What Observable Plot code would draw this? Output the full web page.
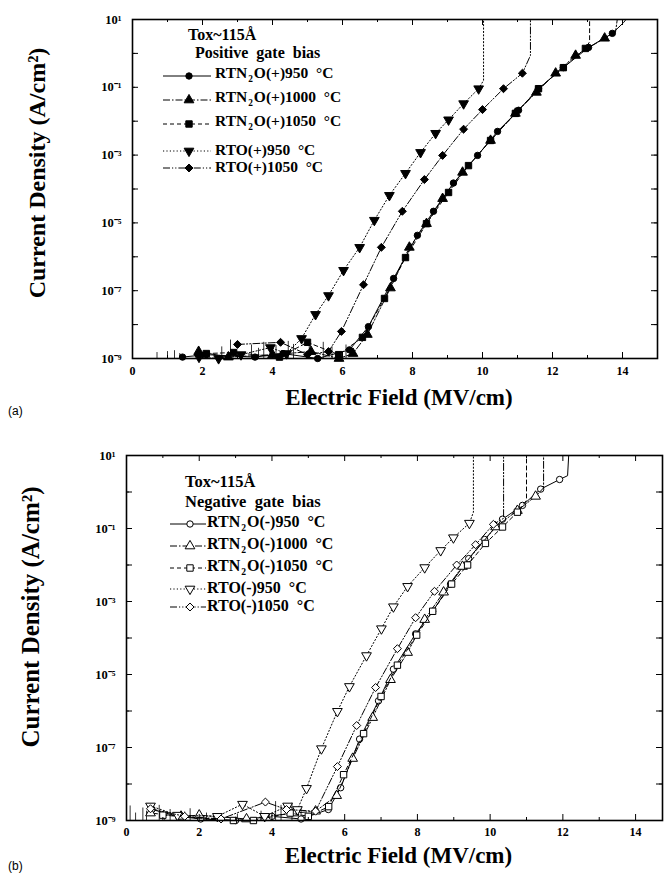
<!DOCTYPE html>
<html><head><meta charset="utf-8">
<script src="https://cdn.jsdelivr.net/npm/d3@7"></script>
<script src="https://cdn.jsdelivr.net/npm/@observablehq/plot@0.6"></script>
<style>
body{margin:0;background:#fff;}
#wrap{position:relative;width:664px;height:878px;overflow:hidden;font-family:"Liberation Serif","Times New Roman",serif;color:#000;}
.panel{position:absolute;left:0;}
.tag{position:absolute;font-family:"Liberation Sans",Arial,sans-serif;font-size:12px;line-height:1;transform:translateY(-50%);}
.lg{position:absolute;font-weight:bold;line-height:1;white-space:nowrap;transform:translateY(-55%);}
.lg sub{font-size:60%;vertical-align:-4px;margin:0 1px;}
.smp{position:absolute;}
</style></head><body><div id="wrap"></div>
<script>
// ---------- data ----------
const xTicksMajor = [0, 2, 4, 6, 8, 10, 12, 14];
const xTicksMinor = [1, 3, 5, 7, 9, 11, 13];
const yLabelTicks = [1e1, 1e-1, 1e-3, 1e-5, 1e-7, 1e-9];
const yTickLabels = ["10¹", "10⁻¹", "10⁻³", "10⁻⁵", "10⁻⁷", "10⁻⁹"];

const posTitle = "Tox~115Å";
const posSubtitle = "Positive gate bias";
const posLabels = ["RTN2O(+)950 °C", "RTN2O(+)1000 °C", "RTN2O(+)1050 °C", "RTO(+)950 °C", "RTO(+)1050 °C"];

const posRtn950Field = [1.43, 2.11, 3.5, 4.3, 5.29, 6.2, 6.74, 7.46, 8.14, 8.60, 9.17, 9.86, 10.43, 11.03, 11.60, 12.31, 13.03, 13.71, 14.03, 14.1];
const posRtn950J     = [1.1e-9, 1.3e-9, 1.1e-9, 1.4e-9, 1.0e-9, 1.8e-9, 8.7e-9, 2.3e-7, 4.3e-6, 2.2e-5, 1.5e-4, 9.8e-4, 5.0e-3, 2.1e-2, 9.1e-2, 0.38, 1.5, 3.9, 8.1, 10];
const posRtn1000Field = [1.89, 2.74, 4.0, 5.1, 5.9, 6.3, 6.71, 7.37, 7.91, 8.40, 8.86, 9.43, 10.23, 10.94, 11.54, 12.09, 12.66, 13.49, 13.80, 13.85];
const posRtn1000J     = [1.6e-9, 1.1e-9, 1.3e-9, 1.6e-9, 1.0e-9, 1.4e-9, 5.1e-9, 1.2e-7, 1.9e-6, 9.5e-6, 5.2e-5, 3.1e-4, 2.7e-3, 1.7e-2, 7.1e-2, 0.26, 0.87, 2.8, 4.2, 10];
const posRtn1050Field = [2.11, 2.89, 4.2, 5.0, 5.89, 6.57, 7.20, 7.80, 8.40, 9.03, 9.60, 10.23, 10.94, 11.60, 12.31, 12.94, 13.06, 13.06];
const posRtn1050J     = [1.4e-9, 1.5e-9, 1.1e-9, 3.0e-9, 1.3e-9, 4.2e-9, 5.9e-8, 9.5e-7, 9.5e-6, 7.9e-5, 4.9e-4, 2.7e-3, 1.7e-2, 9.1e-2, 0.38, 1.4, 2.2, 10];
const posRto950Field = [1.9, 2.46, 3.1, 3.94, 4.4, 4.83, 5.23, 5.60, 6.03, 6.49, 6.91, 7.34, 7.80, 8.23, 8.66, 9.03, 9.46, 9.89, 10.03, 10.03];
const posRto950J     = [1.1e-9, 1.0e-9, 1.3e-9, 2.1e-9, 1.4e-9, 3.9e-9, 2.0e-8, 7.2e-8, 4.0e-7, 1.9e-6, 1.2e-5, 6.5e-5, 2.9e-4, 1.2e-3, 4.4e-3, 1.1e-2, 3.3e-2, 9.1e-2, 0.16, 10];
const posRto1050Field = [3.0, 4.23, 5.0, 5.6, 5.97, 6.60, 7.11, 7.71, 8.34, 8.86, 9.46, 10.0, 10.6, 11.14, 11.37, 11.37];
const posRto1050J     = [2.6e-9, 3.0e-9, 1.3e-9, 1.6e-9, 6.3e-9, 1.5e-7, 1.9e-6, 2.2e-5, 1.9e-4, 9.8e-4, 5.8e-3, 2.2e-2, 9.1e-2, 0.26, 0.87, 10];
const posNoiseField = [0.7, 1.0, 1.2, 1.35, 2.55, 2.8, 3.4, 3.6, 3.75, 4.1, 4.45, 4.6, 5.05, 5.45, 5.7, 6.1];
const posNoiseJ     = [1.5e-9, 1.6e-9, 1.7e-9, 1.4e-9, 2.2e-9, 3.5e-9, 2.5e-9, 2.0e-9, 3.0e-9, 2.4e-9, 3.2e-9, 2.6e-9, 2.8e-9, 3.0e-9, 2.2e-9, 2.5e-9];

const negTitle = "Tox~115Å";
const negSubtitle = "Negative gate bias";
const negLabels = ["RTN2O(-)950 °C", "RTN2O(-)1000 °C", "RTN2O(-)1050 °C", "RTO(-)950 °C", "RTO(-)1050 °C"];

const negRtn950Field = [0.7, 1.43, 2.04, 3.0, 4.0, 4.8, 5.55, 5.89, 6.41, 6.93, 7.34, 7.95, 8.42, 8.91, 9.41, 9.85, 10.34, 10.89, 11.39, 11.91, 12.13, 12.16];
const negRtn950J     = [2.0e-9, 1.3e-9, 1.1e-9, 1.0e-9, 1.3e-9, 1.1e-9, 2.0e-9, 7.9e-9, 1.7e-7, 1.9e-6, 1.4e-5, 1.3e-4, 5.4e-4, 3.0e-3, 1.5e-2, 5.0e-2, 0.18, 0.43, 1.2, 2.2, 2.8, 10];
const negRtn1000Field = [0.66, 1.5, 2.0, 3.3, 4.6, 5.2, 5.78, 6.22, 6.77, 7.26, 7.73, 8.20, 8.72, 9.24, 10.15, 10.75, 11.25, 11.47, 11.47];
const negRtn1000J     = [1.6e-9, 1.3e-9, 1.4e-9, 1.1e-9, 1.6e-9, 1.8e-9, 4.8e-9, 5.0e-8, 6.6e-7, 7.2e-6, 4.0e-5, 3.2e-4, 1.8e-3, 9.1e-3, 0.11, 0.31, 0.76, 1.3, 10];
const negRtn1050Field = [1.0, 2.94, 3.49, 4.5, 5.0, 5.56, 5.97, 6.52, 7.0, 7.45, 7.98, 8.42, 8.94, 9.38, 9.87, 10.34, 10.75, 11.0, 11.0];
const negRtn1050J     = [1.4e-9, 1.0e-9, 1.0e-9, 1.6e-9, 1.3e-9, 2.4e-9, 1.8e-8, 2.4e-7, 2.5e-6, 1.8e-5, 1.2e-4, 5.4e-4, 3.0e-3, 1.0e-2, 3.9e-2, 0.11, 0.28, 0.59, 10];
const negRto950Field = [0.66, 1.4, 2.5, 3.19, 3.8, 4.43, 4.7, 4.95, 5.36, 5.80, 6.13, 6.60, 7.01, 7.34, 7.73, 8.20, 8.64, 8.99, 9.43, 9.54, 9.54];
const negRto950J     = [2.5e-9, 1.4e-9, 1.3e-9, 2.8e-9, 1.3e-9, 2.5e-9, 2.0e-9, 7.6e-9, 9.3e-8, 9.8e-7, 4.7e-6, 3.3e-5, 1.8e-4, 7.2e-4, 2.6e-3, 8.5e-3, 2.5e-2, 5.6e-2, 0.14, 0.28, 10];
const negRto1050Field = [0.66, 1.6, 2.6, 3.82, 4.4, 5.2, 5.80, 6.33, 6.85, 7.45, 7.95, 8.47, 9.08, 9.60, 10.09, 10.37, 10.37];
const negRto1050J     = [2.1e-9, 1.3e-9, 1.1e-9, 3.2e-9, 2.0e-9, 1.8e-9, 3.0e-8, 4.0e-7, 4.4e-6, 5.1e-5, 3.6e-4, 1.9e-3, 1.0e-2, 3.6e-2, 0.13, 0.19, 10];
const negNoiseField = [0.1, 0.25, 0.45, 0.55, 0.9, 1.05, 1.2, 1.6, 1.75, 2.2, 2.4, 3.05, 3.7, 4.1, 4.25, 4.55, 4.8];
const negNoiseJ     = [2.5e-9, 1.6e-9, 2.2e-9, 1.8e-9, 2.6e-9, 1.5e-9, 2.0e-9, 1.7e-9, 2.1e-9, 1.6e-9, 1.4e-9, 1.5e-9, 1.8e-9, 3.3e-9, 2.6e-9, 3.0e-9, 2.4e-9];

const xTitle = "Electric Field (MV/cm)";
const yTitle = "Current Density (A/cm²)";

// ---------- styles per series ----------
const styles = [
  {symbol: "circle",   rot: 0,   dash: null,              tail: 2},
  {symbol: "triangle", rot: 0,   dash: "7,2,1.5,2",       tail: 2},
  {symbol: "square",   rot: 0,   dash: "4,3",             tail: 2},
  {symbol: "triangle", rot: 180, dash: "1.2,2.2",         tail: 2},
  {symbol: "diamond2", rot: 0,   dash: "7,2,1.2,2,1.2,2", tail: 2}
];
const posSeries = [[posRtn950Field, posRtn950J], [posRtn1000Field, posRtn1000J], [posRtn1050Field, posRtn1050J], [posRto950Field, posRto950J], [posRto1050Field, posRto1050J]];
const negSeries = [[negRtn950Field, negRtn950J], [negRtn1000Field, negRtn1000J], [negRtn1050Field, negRtn1050J], [negRto950Field, negRto950J], [negRto1050Field, negRto1050J]];

const wrap = document.getElementById("wrap");
const FONT = "Liberation Serif, Times New Roman, serif";

function panel(o) {
  const H = o.height - o.mt - o.mb, W = 664 - o.ml - o.mr;
  const marks = [];
  marks.push(Plot.ruleX(o.noiseX.map((x, i) => ({x, y: o.noiseY[i]})), {x: "x", y1: 1e-9, y2: "y", stroke: "#000", strokeWidth: 0.8}));
  o.series.forEach(([xs, ys], k) => {
    const st = styles[k];
    const data = xs.map((x, i) => ({x, y: ys[i], m: i < xs.length - st.tail}));
    marks.push(Plot.line(data, {x: "x", y: "y", stroke: "#000", strokeWidth: 1, strokeDasharray: st.dash}));
    marks.push(Plot.dot(data.filter(d => d.m), {x: "x", y: "y", symbol: st.symbol, r: st.symbol === "circle" ? 3.2 : 3.6, rotate: st.rot,
      fill: o.filled ? "#000" : "#fff", stroke: "#000", strokeWidth: 1}));
  });
  const yMinor = d3.scaleLog().domain([1e-9, 10]).ticks();
  const yMajor = yMinor.filter(v => Math.abs(Math.log10(v) - Math.round(Math.log10(v))) < 1e-9);
  const xMinor = xTicksMinor.filter(v => v < o.xMax);
  marks.push(
    Plot.ruleX(xTicksMajor, {x: d => d, insetTop: H - 6, stroke: "#000"}),
    Plot.ruleX(xTicksMajor, {x: d => d, insetBottom: H - 6, stroke: "#000"}),
    Plot.ruleX(xMinor, {x: d => d, insetTop: H - 3, stroke: "#000"}),
    Plot.ruleX(xMinor, {x: d => d, insetBottom: H - 3, stroke: "#000"}),
    Plot.ruleY(yMajor, {y: d => d, insetRight: W - 6, stroke: "#000"}),
    Plot.ruleY(yMajor, {y: d => d, insetLeft: W - 6, stroke: "#000"}),
    Plot.ruleY(yMinor, {y: d => d, insetRight: W - 3, stroke: "#000", strokeWidth: 0.8}),
    Plot.ruleY(yMinor, {y: d => d, insetLeft: W - 3, stroke: "#000", strokeWidth: 0.8}),
    Plot.frame({stroke: "#000", strokeWidth: 1.6}),
    Plot.axisX(xTicksMajor, {tickSize: 0, tickPadding: o.xPad, fontSize: 12, fontWeight: "bold", label: null, tickFormat: d => String(d)}),
    Plot.axisY(yLabelTicks, {tickSize: 0, tickPadding: 11, fontSize: 12.5, fontWeight: "bold", label: null,
      tickFormat: d => yTickLabels[yLabelTicks.indexOf(d)]}),
    Plot.text([xTitle], {text: d => d, frameAnchor: "bottom", lineAnchor: "middle", dy: o.xTitleDy, dx: 4, fontSize: 23, fontWeight: "bold"}),
    Plot.text([yTitle], {text: d => d, frameAnchor: "left", rotate: -90, lineAnchor: "middle", textAnchor: "middle", dx: o.yTitleDx, dy: o.yTitleDy, fontSize: o.yTitleSize, fontWeight: "bold"})
  );
  const svg = Plot.plot({
    width: 664, height: o.height,
    marginTop: o.mt, marginBottom: o.mb, marginLeft: o.ml, marginRight: o.mr,
    x: {domain: [0, o.xMax]},
    y: {type: "log", domain: [1e-9, 10]},
    style: {fontFamily: FONT, background: "transparent", overflow: "visible", color: "#000"},
    marks
  });
  svg.classList.add("panel");
  svg.style.top = o.top + "px";
  wrap.appendChild(svg);
}

function legend(o) {
  const add = (html, x, cy, fs) => {
    const d = document.createElement("div");
    d.className = "lg";
    d.style.left = x + "px"; d.style.top = cy + "px"; d.style.fontSize = fs + "px";
    d.innerHTML = html;
    wrap.appendChild(d);
  };
  add(o.title, o.titleX, o.titleY, o.fsTitle);
  add(o.sub.replace(/ /g, "&nbsp;&nbsp;"), o.subX, o.subY, o.fsTitle);
  o.labels.forEach((lab, k) => {
    const st = styles[k], cy = o.rows[k];
    const s = d3.create("svg").attr("class", "smp").attr("width", o.sw).attr("height", 14)
      .style("left", o.sx + "px").style("top", (cy - 7) + "px");
    s.append("line").attr("x1", 0).attr("x2", o.sw).attr("y1", 7).attr("y2", 7)
      .attr("stroke", "#000").attr("stroke-width", 1).attr("stroke-dasharray", st.dash);
    const sym = {circle: d3.symbolCircle, triangle: d3.symbolTriangle, square: d3.symbolSquare, diamond2: d3.symbolDiamond2}[st.symbol];
    const r = st.symbol === "circle" ? 3.2 : 3.6;
    s.append("path").attr("d", d3.symbol(sym, Math.PI * r * r)())
      .attr("transform", `translate(${o.mx},7) rotate(${st.rot})`)
      .attr("fill", o.filled ? "#000" : "#fff").attr("stroke", "#000");
    wrap.appendChild(s.node());
    const html = lab.replace("N2O", "N<sub>2</sub>O").replace(" °C", "&nbsp;&nbsp;°C");
    add(html, o.tx, cy, o.fsRow);
  });
}

panel({top: 0, height: 400, mt: 19, mb: 42, ml: 132, mr: 7, xMax: 15, series: posSeries, filled: true, xPad: 8,
  noiseX: posNoiseField, noiseY: posNoiseJ, xTitleDy: 39, yTitleDx: -95, yTitleDy: -16, yTitleSize: 24});
panel({top: 420, height: 458, mt: 35, mb: 58, ml: 126, mr: 2, xMax: 14.74, series: negSeries, filled: false, xPad: 7,
  noiseX: negNoiseField, noiseY: negNoiseJ, xTitleDy: 35, yTitleDx: -96, yTitleDy: -21, yTitleSize: 25});

legend({title: posTitle, titleX: 188, titleY: 36, sub: posSubtitle, subX: 195, subY: 54, labels: posLabels, fsTitle: 16, fsRow: 15.5,
  rows: [76, 100, 124, 151, 168], sx: 163, sw: 48, mx: 26, tx: 215, filled: true});
legend({title: negTitle, titleX: 185, titleY: 483, sub: negSubtitle, subX: 185, subY: 503, labels: negLabels, fsTitle: 16.5, fsRow: 16,
  rows: [524, 546, 568, 589, 607], sx: 170, sw: 36, mx: 20, tx: 207, filled: false});

const ta = document.createElement("div"); ta.className = "tag"; ta.style.left = "8px"; ta.style.top = "411px"; ta.textContent = "(a)"; wrap.appendChild(ta);
const tb = document.createElement("div"); tb.className = "tag"; tb.style.left = "8px"; tb.style.top = "866px"; tb.textContent = "(b)"; wrap.appendChild(tb);
</script>
</body></html>
